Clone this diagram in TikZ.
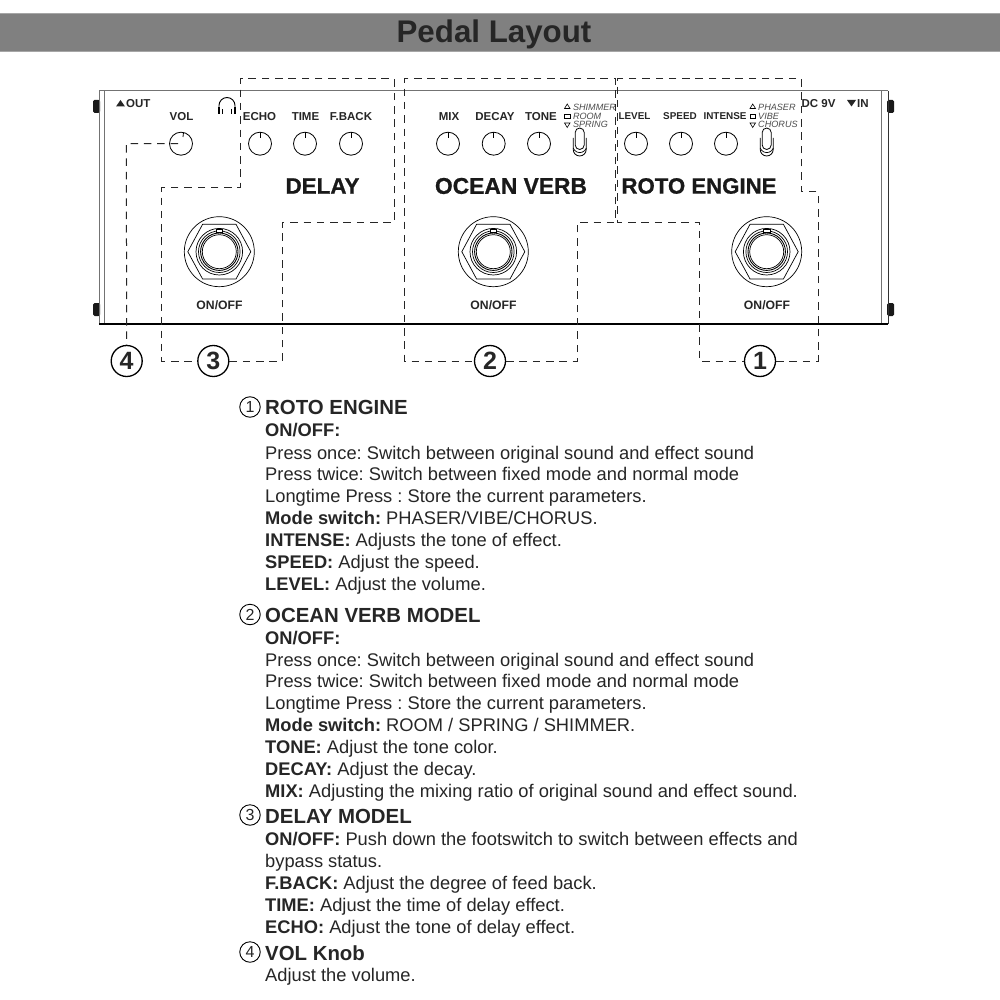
\documentclass[tikz,border=0pt]{standalone}
\usepackage{fontspec}
\setmainfont{Liberation Sans}
\newfontfamily\brandfont[FakeBold=0.8]{Liberation Sans Bold}
\frenchspacing
\tikzset{
 x=1pt,y=-1pt,
 knob/.style={draw=black,circle,minimum size=23pt,inner sep=0pt,line width=0.8pt},
 ctl/.style={font=\bfseries\fontsize{11.5}{12}\selectfont,text=black!85},
 ctlsmall/.style={font=\bfseries\fontsize{9.9}{11}\selectfont,text=black!85},
 onoff/.style={font=\bfseries\fontsize{12.2}{13}\selectfont,text=black!85},
 modetxt/.style={font=\itshape\fontsize{9.1}{10}\selectfont,text=black!70,anchor=west,inner sep=0pt},
 brand/.style={font=\brandfont\fontsize{22.4}{24}\selectfont,text=black!90},
 callout/.style={draw=black,circle,line width=1.3pt,minimum size=31pt,inner sep=0pt,fill=white,font=\bfseries\fontsize{25}{25}\selectfont,text=black!85},
 dashline/.style={draw=black!85,line width=1pt,dash pattern=on 7.5pt off 5.8pt},
 bodytxt/.style={anchor=base west,inner sep=0pt,font=\fontsize{18.3}{19}\selectfont,text=black!85},
 headtxt/.style={anchor=base west,inner sep=0pt,font=\bfseries\fontsize{20.4}{21}\selectfont,text=black!85},
 numdot/.style={draw=black,circle,line width=0.9pt,minimum size=20.5pt,inner sep=0pt,font=\fontsize{16}{16}\selectfont,text=black!85},
}
\newcommand{\footsw}[3]{%
 \node[draw,circle,minimum size=70pt,inner sep=0pt,line width=.7pt] (#3) at (#1,#2) {};
 \draw[line width=.7pt] (#1-31.5,#2) -- (#1-16.7,#2-27.4) -- (#1+16.7,#2-27.4) -- (#1+31.5,#2) -- (#1+16.7,#2+27.3) -- (#1-16.7,#2+27.3) -- cycle;
 \draw[line width=.7pt] (#1,#2) circle (23.3pt);
 \draw[line width=.7pt] (#1,#2) circle (20.8pt);
 \draw[line width=.9pt] (#1,#2) circle (18.7pt);
 \draw[line width=.7pt] (#1,#2) circle (17pt);
 \draw[line width=.6pt,fill=white] (#1-3.3,#2-22.7) rectangle (#1+3.3,#2-19.4);
}
\newcommand{\toggle}[2]{%
 \draw[line width=.8pt] (#1-6.5,#2-6) -- (#1-6.5,#2+5.5) arc (180:360:6.5pt) -- (#1+6.5,#2-6);
 \draw[line width=.8pt,fill=white] (#1-4.5,#2+1) -- (#1-4.5,#2-11.5) arc (180:0:4.5pt) -- (#1+4.5,#2+1) arc (0:-180:4.5pt);
 \draw[line width=.7pt] (#1-6.5,#2+4) arc (200:340:7pt);
}
\begin{document}
\begin{tikzpicture}
\useasboundingbox (0,0) rectangle (1000,1000);
\fill[white] (0,0) rectangle (1000,1000);
\fill[black!50] (0,13) rectangle (1000,52);
\draw[black!35,line width=.8pt] (0,13.4) -- (1000,13.4) (0,51.8) -- (1000,51.8);
\node[font=\bfseries\fontsize{31.3}{33}\selectfont,text=black!85,anchor=base] (title) at (494,43) {Pedal Layout};
% body
\fill[black!90,rounded corners=1.5pt] (93,100) rectangle (100,113);
\fill[black!90,rounded corners=1.5pt] (93,303) rectangle (100,316);
\fill[black!90,rounded corners=1.5pt] (887,100) rectangle (894,113);
\fill[black!90,rounded corners=1.5pt] (887,303) rectangle (894,316);
\draw[draw=black!55,line width=1pt] (99,91) -- (888,91);
\draw[draw=black!55,line width=.8pt] (99,91) -- (99,324);
\draw[draw=black!55,line width=.8pt] (104.7,91) -- (104.7,324);
\draw[draw=black!55,line width=.8pt] (881.7,91) -- (881.7,324);
\draw[draw=black!80,line width=.9pt] (888,91) -- (888,324);
\draw[line width=1.1pt] (99,324) -- (888,324);
% labels
\fill[black!85] (116,106.5) -- (125,106.5) -- (120.5,100) -- cycle;
\node[ctl,anchor=west,inner sep=0pt] (outl) at (126,103.5) {OUT};
\node[ctl] (volt) at (181.5,116.5) {VOL};
\draw[line width=.9pt,line cap=round] (219,110) -- (219,105.5) arc (180:0:8pt) -- (235,110);
\draw[line width=1.8pt] (219,107) -- (219,114) (235,107) -- (235,114);
\draw[line width=.5pt] (222.5,109) -- (222.5,114) (231.5,109) -- (231.5,114);
\node[ctl] (echot) at (259.5,116.5) {ECHO};
\node[ctl] (timet) at (305.5,116.5) {TIME};
\node[ctl] (fbackt) at (351,116.5) {F.BACK};
\node[ctl] (mixt) at (449,116.5) {MIX};
\node[ctl] (decayt) at (495,116.5) {DECAY};
\node[ctl] (tonet) at (541,116.5) {TONE};
\node[ctlsmall] (levelt) at (634.5,116.5) {LEVEL};
\node[ctlsmall] (speedt) at (680,116.5) {SPEED};
\node[ctlsmall] (intenset) at (725,116.5) {INTENSE};
\node[ctl] (dct) at (818.5,103.5) {DC 9V};
\fill[black!85] (847,100) -- (856,100) -- (851.5,106.5) -- cycle;
\node[ctl,anchor=west,inner sep=0pt] (inl) at (857,103.5) {IN};
% knobs
\foreach \n/\cx in {vol/181,echo/260,time/305,fback/351,mix/448,decay/493.7,tone/539,level/636,speed/681,intense/726}{
 \node[knob] (\n) at (\cx,143.7) {};
}
\foreach \cx in {260,305,351,448,493.7,539,636,681,726}{
 \draw[line width=.8pt] (\cx,143.7-11.5) -- (\cx,143.7-6);
}
\draw[line width=.8pt] (183.5,132.5) -- (183,137);
% mode switches
\draw[line width=.6pt] (564.5,108.5) -- (570,108.5) -- (567.2,104) -- cycle;
\draw[line width=.6pt] (564.7,114) rectangle (570,118);
\draw[line width=.6pt] (564.5,123) -- (570,123) -- (567.2,127.5) -- cycle;
\node[modetxt] (m1) at (572.8,107) {SHIMMER};
\node[modetxt] (m2) at (572.8,116) {ROOM};
\node[modetxt] (m3) at (572.8,124.5) {SPRING};
\draw[line width=.6pt] (750,108.5) -- (755.5,108.5) -- (752.7,104) -- cycle;
\draw[line width=.6pt] (750.2,114) rectangle (755.5,118);
\draw[line width=.6pt] (750,123) -- (755.5,123) -- (752.7,127.5) -- cycle;
\node[modetxt] (r1) at (758,107) {PHASER};
\node[modetxt] (r2) at (758,116) {VIBE};
\node[modetxt] (r3) at (758,124.5) {CHORUS};
\toggle{579.7}{144}
\toggle{766.7}{144}
% brand
\node[brand] (delay) at (322.5,186) {DELAY};
\node[brand,font=\brandfont\fontsize{22.8}{24}\selectfont] (ocean) at (511,186) {OCEAN VERB};
\node[brand,font=\brandfont\fontsize{22.2}{24}\selectfont] (roto) at (699,186) {ROTO ENGINE};
% footswitches
\footsw{219.3}{251.7}{fs3}
\footsw{493.3}{251.7}{fs2}
\footsw{766.7}{251.7}{fs1}
\node[onoff] (on3) at (219.5,305) {ON/OFF};
\node[onoff] (on2) at (493.5,305) {ON/OFF};
\node[onoff] (on1) at (767,305) {ON/OFF};
% callouts
\node[callout] (c4) at (126.7,361) {4};
\node[callout] (c3) at (213.3,361) {3};
\node[callout] (c2) at (490,361) {2};
\node[callout] (c1) at (760,361) {1};
% dashed regions
\draw[dashline] (c3.east) -- (282.3,361) -- (282.3,222.3) -- (394.3,222.3) -- (394.3,79) -- (240,79) -- (240,187.7) -- (161.7,187.7) -- (161.7,361) -- (c3.west);
\draw[dashline] (c2.east) -- (577,361) -- (577,222.3) -- (615.5,222.3) -- (615.5,79) -- (404.7,79) -- (404.7,361) -- (c2.west);
\draw[dashline] (c1.east) -- (818,361) -- (818,191.7) -- (801.7,191.7) -- (801.7,79) -- (617.5,79) -- (617.5,222.3) -- (699.3,222.3) -- (699.3,361) -- (c1.west);
\draw[dashline] ([xshift=-3pt]vol.center) -- (126.3,143.7) -- (c4.north);
% text
\node[numdot] (n1) at (250,407) {1};
\node[headtxt] (h1) at (265,414.3) {ROTO ENGINE};
\node[bodytxt] at (265,436.5) {\textbf{ON/OFF:}};
\node[bodytxt] at (265,459) {Press once: Switch between original sound and effect sound};
\node[bodytxt] at (265,480.7) {Press twice: Switch between fixed mode and normal mode};
\node[bodytxt] at (265,502.7) {Longtime Press : Store the current parameters.};
\node[bodytxt] at (265,524.5) {\textbf{Mode switch:} PHASER/VIBE/CHORUS.};
\node[bodytxt] at (265,546.5) {\textbf{INTENSE:} Adjusts the tone of effect.};
\node[bodytxt] at (265,568.5) {\textbf{SPEED:} Adjust the speed.};
\node[bodytxt] at (265,590.5) {\textbf{LEVEL:} Adjust the volume.};
\node[numdot] (n2) at (250,614.5) {2};
\node[headtxt] (h2) at (265,622) {OCEAN VERB MODEL};
\node[bodytxt] at (265,644.5) {\textbf{ON/OFF:}};
\node[bodytxt] at (265,666.5) {Press once: Switch between original sound and effect sound};
\node[bodytxt] at (265,687.7) {Press twice: Switch between fixed mode and normal mode};
\node[bodytxt] at (265,709.7) {Longtime Press : Store the current parameters.};
\node[bodytxt] at (265,731.7) {\textbf{Mode switch:} ROOM / SPRING / SHIMMER.};
\node[bodytxt] at (265,753.7) {\textbf{TONE:} Adjust the tone color.};
\node[bodytxt] at (265,775.7) {\textbf{DECAY:} Adjust the decay.};
\node[bodytxt] at (265,797.7) {\textbf{MIX:} Adjusting the mixing ratio of original sound and effect sound.};
\node[numdot] (n3) at (250,815) {3};
\node[headtxt] (h3) at (265,823) {DELAY MODEL};
\node[bodytxt] at (265,845.5) {\textbf{ON/OFF:} Push down the footswitch to switch between effects and};
\node[bodytxt] at (265,867.5) {bypass status.};
\node[bodytxt] at (265,889.5) {\textbf{F.BACK:} Adjust the degree of feed back.};
\node[bodytxt] at (265,911.5) {\textbf{TIME:} Adjust the time of delay effect.};
\node[bodytxt] at (265,933.5) {\textbf{ECHO:} Adjust the tone of delay effect.};
\node[numdot] (n4) at (250,952) {4};
\node[headtxt] (h4) at (265,960) {VOL Knob};
\node[bodytxt] at (265,981.5) {Adjust the volume.};
\end{tikzpicture}
\end{document}
